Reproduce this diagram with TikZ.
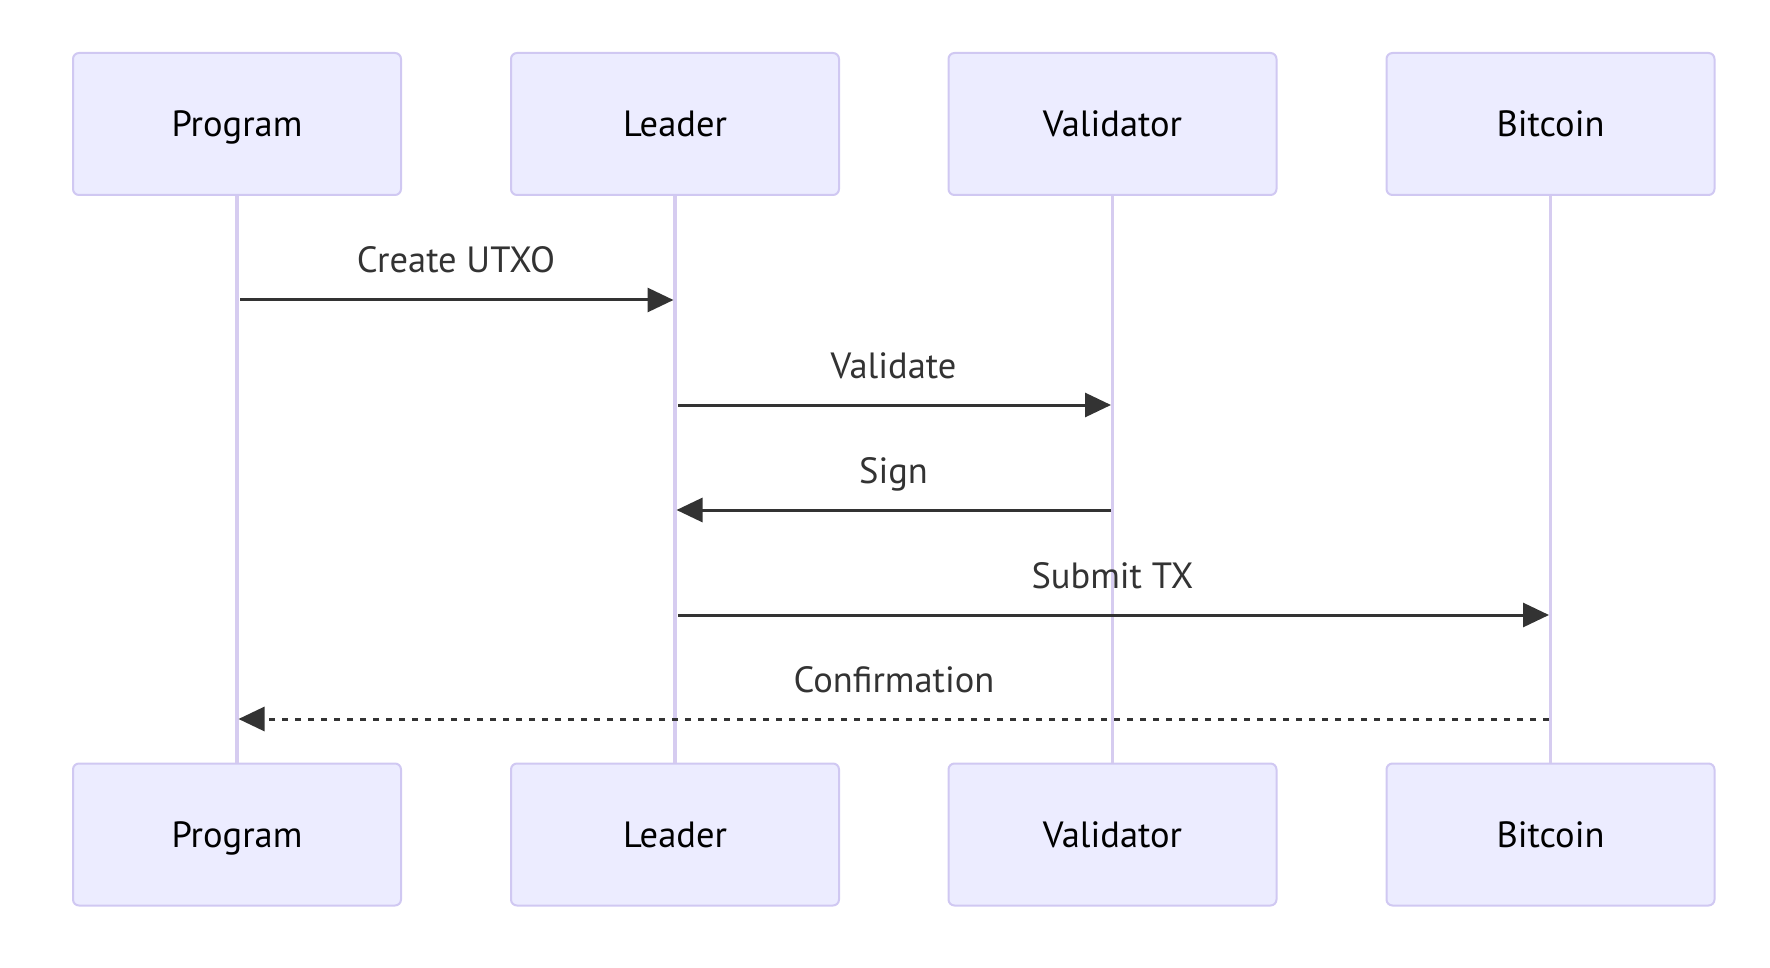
\documentclass[tikz,border=0pt]{standalone}
\usepackage{fontspec}
\setmainfont{PT Sans}
\usetikzlibrary{arrows.meta}
\definecolor{actfill}{HTML}{ECECFF}
\definecolor{actborder}{HTML}{D0C8F2}
\definecolor{lifecol}{HTML}{D6CCF0}
\definecolor{msgcol}{HTML}{333333}
\tikzset{
  actor/.style={draw=actborder, fill=actfill, line width=2pt, rounded corners=6pt,
    minimum width=328pt, minimum height=142pt, inner sep=0pt,
    text height=26pt, text depth=0pt,
    font=\fontsize{36.5}{42}\selectfont, text=black},
  lifeline/.style={draw=lifecol, line width=3.5pt},
  msg/.style={draw=msgcol, line width=3pt, -{Triangle[length=26pt,width=24pt]}},
  msgdash/.style={msg, dash pattern=on 6.5pt off 6.5pt},
  msglabel/.style={font=\fontsize{36.5}{42}\selectfont, text=msgcol, anchor=base, inner sep=0pt}
}
\begin{document}
\begin{tikzpicture}[x=1pt,y=-1pt]
\useasboundingbox (0,0) rectangle (1770,968);
% actors top
\node[actor] (pt) at (237,124) {Program};
\node[actor] (lt) at (675,124) {Leader};
\node[actor] (vt) at (1112.5,124) {Validator};
\node[actor] (bt) at (1550.5,124) {Bitcoin};
% actors bottom
\node[actor] (pb) at (237,834.5) {Program};
\node[actor] (lb) at (675,834.5) {Leader};
\node[actor] (vb) at (1112.5,834.5) {Validator};
\node[actor] (bb) at (1550.5,834.5) {Bitcoin};
% lifelines
\draw[lifeline] (pt.south) -- (pb.north);
\draw[lifeline] (lt.south) -- (lb.north);
\draw[lifeline] (vt.south) -- (vb.north);
\draw[lifeline] (bt.south) -- (bb.north);
% message anchor coordinates
\coordinate (m1s) at (240,300);    \coordinate (m1e) at (673.5,300);
\coordinate (m2s) at (678,405);    \coordinate (m2e) at (1111,405);
\coordinate (m3s) at (1111,510);   \coordinate (m3e) at (676.5,510);
\coordinate (m4s) at (678,615);    \coordinate (m4e) at (1549,615);
\coordinate (m5s) at (1549,719);   \coordinate (m5e) at (238.5,719);
% messages
\draw[msg] (m1s) -- (m1e);
\draw[msg] (m2s) -- (m2e);
\draw[msg] (m3s) -- (m3e);
\draw[msg] (m4s) -- (m4e);
\draw[msgdash] (m5s) -- (m5e);
% labels
\node[msglabel] (t1) at (456,273) {Create UTXO};
\node[msglabel] (t2) at (893.5,378) {Validate};
\node[msglabel] (t3) at (893.5,483) {Sign};
\node[msglabel] (t4) at (1112.5,588) {Submit TX};
\node[msglabel] (t5) at (894,692) {Confirmation};
\end{tikzpicture}
\end{document}
